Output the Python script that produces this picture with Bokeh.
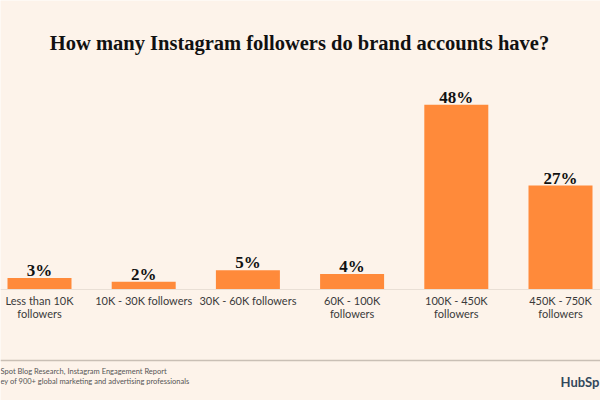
from bokeh.plotting import figure
from bokeh.models import Range1d, Span, ColumnDataSource
from bokeh.core.properties import value
from bokeh.embed import file_html
from bokeh.resources import INLINE

# ---- data ----
categories = ["Less than 10K\nfollowers", "10K - 30K followers", "30K - 60K followers",
              "60K - 100K\nfollowers", "100K - 450K\nfollowers", "450K - 750K\nfollowers"]
shares = [3, 2, 5, 4, 48, 27]
share_labels = ["3%", "2%", "5%", "4%", "48%", "27%"]
title_text = "How many Instagram followers do brand accounts have?"
source_lines = ["Spot Blog Research, Instagram Engagement Report",
                "ey of 900+ global marketing and advertising professionals"]
logo_text = "HubSp"

# ---- layout constants (pixels) ----
W, H = 600, 400
M = 0                      # page offset of the figure
X0 = 39                    # px of first category centre inside figure
DX = 104.2                 # px per category
BASE = 111                 # px of zero line from figure bottom
DY = 3.85                  # px per percent

BG = "#FDF3EA"
ORANGE = "#FF8A3A"

def xd(page_x):
    return (page_x - M - X0) / DX

def yd(page_y):
    return (H - (page_y - M) - BASE) / DY

p = figure(width=W, height=H, output_backend="svg", toolbar_location=None,
           x_range=Range1d(-X0 / DX, (W - X0) / DX),
           y_range=Range1d(-BASE / DY, (H - BASE) / DY),
           min_border=0, min_border_left=0, min_border_right=0,
           min_border_top=0, min_border_bottom=0)
p.axis.visible = False
p.grid.visible = False
p.outline_line_color = None
p.background_fill_color = BG
p.border_fill_color = BG

idx = list(range(len(categories)))
line1 = [c.split("\n")[0] for c in categories]
line2 = [c.split("\n")[1] if "\n" in c else "" for c in categories]

src = ColumnDataSource(dict(x=idx, top=shares, lab=share_labels,
                            laby=[s + 7.5 / DY for s in shares],
                            l1=line1, l2=line2))

# baseline
p.add_layout(Span(location=0, dimension="width", line_color="#E9DFD5", line_width=1))

p.vbar(x="x", top="top", bottom=0, width=64 / DX, source=src,
       fill_color=ORANGE, line_color=None)

p.text(x="x", y="laby", text="lab", source=src,
       text_font=value("Liberation Serif"), text_font_style="bold",
       text_font_size="17px", text_color="#111111",
       text_align="center", text_baseline="alphabetic")

p.text(x="x", y=yd(299.5), text="l1", source=src,
       text_font=value("Lato"), text_font_size="11px", text_color="#3a3a3a",
       text_align="center", text_baseline="alphabetic")
p.text(x="x", y=yd(312.5), text="l2", source=src,
       text_font=value("Lato"), text_font_size="11px", text_color="#3a3a3a",
       text_align="center", text_baseline="alphabetic")

# title
p.text(x=[xd(299)], y=[yd(42)], text=[title_text],
       text_font=value("Liberation Serif"), text_font_style="bold",
       text_font_size="20.5px", text_color="#111111",
       text_align="center", text_baseline="alphabetic")

# footer rule
p.add_layout(Span(location=yd(360), dimension="width", line_color="#C9BFB5", line_width=1.5))

# source text
p.text(x=[xd(0), xd(0)], y=[yd(371), yd(381)], text=source_lines,
       text_font=value("Lato"), text_font_size="7.5px", text_color="#555555",
       text_align="left", text_baseline="alphabetic")

# logo
p.text(x=[xd(560)], y=[yd(381)], text=[logo_text],
       text_font=value("Lato"), text_font_style="bold",
       text_font_size="13px", text_color="#33475B",
       text_align="left", text_baseline="alphabetic")

open("out.html", "w").write(file_html(p, INLINE))
